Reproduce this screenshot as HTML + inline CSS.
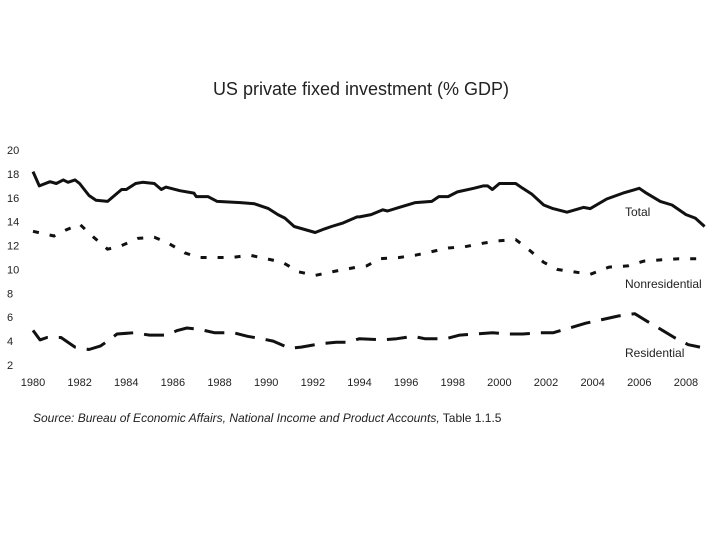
<!DOCTYPE html>
<html><head><meta charset="utf-8"><style>
body{margin:0;background:#fff;}
svg text{font-family:"Liberation Sans",sans-serif;fill:#222;}
</style></head><body>
<svg id="chart" width="720" height="540">
<text x="361" y="95" text-anchor="middle" font-size="18">US private fixed investment (% GDP)</text>
<g id="yaxis"></g>
<g id="xaxis"></g>
<g id="series"></g>
<text x="625" y="216" font-size="12">Total</text>
<text x="625" y="288" font-size="12">Nonresidential</text>
<text x="625" y="357" font-size="12">Residential</text>
<text x="33" y="422" font-size="12"><tspan font-style="italic">Source: Bureau of Economic Affairs, National Income and Product Accounts,</tspan> Table 1.1.5</text>
</svg>
<script>
const yTicks=[2,4,6,8,10,12,14,16,18,20];
const xTicks=[1980,1982,1984,1986,1988,1990,1992,1994,1996,1998,2000,2002,2004,2006,2008];
const totalYears=[1980,1980.27,1980.73,1981,1981.3,1981.5,1981.8,1982,1982.4,1982.7,1983.2,1983.8,1984,1984.4,1984.7,1985.2,1985.5,1985.7,1986.3,1986.9,1987,1987.5,1987.9,1988.9,1989.5,1990.1,1990.5,1990.8,1991.2,1992.1,1992.5,1992.8,1993.3,1993.9,1994,1994.5,1995,1995.2,1995.7,1996.4,1997.1,1997.4,1997.8,1998.2,1998.9,1999.3,1999.5,1999.7,2000,2000.7,2001,2001.4,2001.9,2002.3,2002.9,2003.6,2003.9,2004.6,2005.3,2006,2006.3,2006.9,2007.4,2008,2008.4,2008.8];
const totalValues=[18.2,17.0,17.35,17.2,17.5,17.3,17.5,17.2,16.2,15.8,15.7,16.7,16.7,17.2,17.3,17.2,16.7,16.9,16.6,16.4,16.1,16.1,15.7,15.6,15.5,15.1,14.6,14.3,13.6,13.1,13.4,13.6,13.9,14.4,14.4,14.6,15.0,14.9,15.2,15.6,15.7,16.1,16.1,16.5,16.8,17.0,17.0,16.7,17.2,17.2,16.8,16.3,15.4,15.1,14.8,15.2,15.1,15.9,16.4,16.8,16.4,15.7,15.4,14.6,14.3,13.6];
const nonresYears=[1980,1980.9,1981.4,1982,1982.6,1983.2,1983.8,1984.5,1985.2,1985.8,1986.5,1987.1,1988.5,1989.3,1990,1990.7,1991.4,1992.1,1992.8,1993.9,1994.3,1994.9,1995.7,1996.4,1997.1,1997.8,1998.5,1999.3,2000,2000.7,2001.3,2001.9,2002.5,2003.2,2003.9,2004.7,2005.5,2006.2,2006.9,2007.7,2008.7];
const nonresValues=[13.2,12.8,13.3,13.8,12.7,11.7,12.0,12.6,12.7,12.2,11.4,11.0,11.0,11.2,10.9,10.6,9.8,9.5,9.8,10.2,10.3,10.9,11.0,11.2,11.5,11.8,11.9,12.2,12.4,12.5,11.6,10.6,10.0,9.8,9.6,10.2,10.3,10.7,10.8,10.9,10.9];
const resYears=[1980,1980.3,1980.6,1981.2,1981.8,1982.4,1982.9,1983.2,1983.6,1984.3,1985,1985.7,1986.2,1986.6,1987.1,1987.8,1988.6,1989.2,1989.8,1990.3,1991,1991.5,1992.4,1993,1993.5,1994,1995,1995.6,1996.3,1996.8,1997.7,1998.3,1999,1999.7,2000.4,2001,2001.7,2002.3,2003,2003.7,2004.4,2005.1,2005.8,2006.3,2007,2007.5,2008.1,2008.6];
const resValues=[4.9,4.1,4.3,4.3,3.5,3.3,3.6,4.0,4.6,4.7,4.5,4.5,4.9,5.1,5.0,4.7,4.7,4.4,4.2,4.0,3.4,3.5,3.8,3.9,3.9,4.2,4.1,4.2,4.4,4.2,4.2,4.5,4.6,4.7,4.6,4.6,4.7,4.7,5.1,5.5,5.8,6.1,6.3,5.7,4.9,4.3,3.7,3.5];

const NS='http://www.w3.org/2000/svg';
const xs=yr=>33+(yr-1980)*23.32;
const ys=v=>365-(v-2)*11.94;
const yg=document.getElementById('yaxis'),xg=document.getElementById('xaxis'),sg=document.getElementById('series');
yTicks.forEach(t=>{
  const el=document.createElementNS(NS,'text');
  
  
  el.setAttribute('x',7);el.setAttribute('y',ys(t)+4);el.setAttribute('font-size','11');
  el.textContent=t;yg.appendChild(el);
});
xTicks.forEach(t=>{
  const el=document.createElementNS(NS,'text');
  
  
  el.setAttribute('x',xs(t));el.setAttribute('y',386);el.setAttribute('font-size','11');el.setAttribute('text-anchor','middle');
  el.textContent=t;xg.appendChild(el);
});
function line(years,vals,dash,name){
  const p=document.createElementNS(NS,'path');
  
  
  p.setAttribute('d',years.map((y,i)=>(i?'L':'M')+xs(y).toFixed(1)+' '+ys(vals[i]).toFixed(1)).join(''));
  p.setAttribute('fill','none');p.setAttribute('stroke','#111');p.setAttribute('stroke-width','3');
  p.setAttribute('stroke-linejoin','round');
  if(dash)p.setAttribute('stroke-dasharray',dash);
  sg.appendChild(p);
}
line(totalYears,totalValues,null,'line-total');
line(nonresYears,nonresValues,'6 11','line-nonresidential');
line(resYears,resValues,'20 11','line-residential');
</script>
</body></html>
